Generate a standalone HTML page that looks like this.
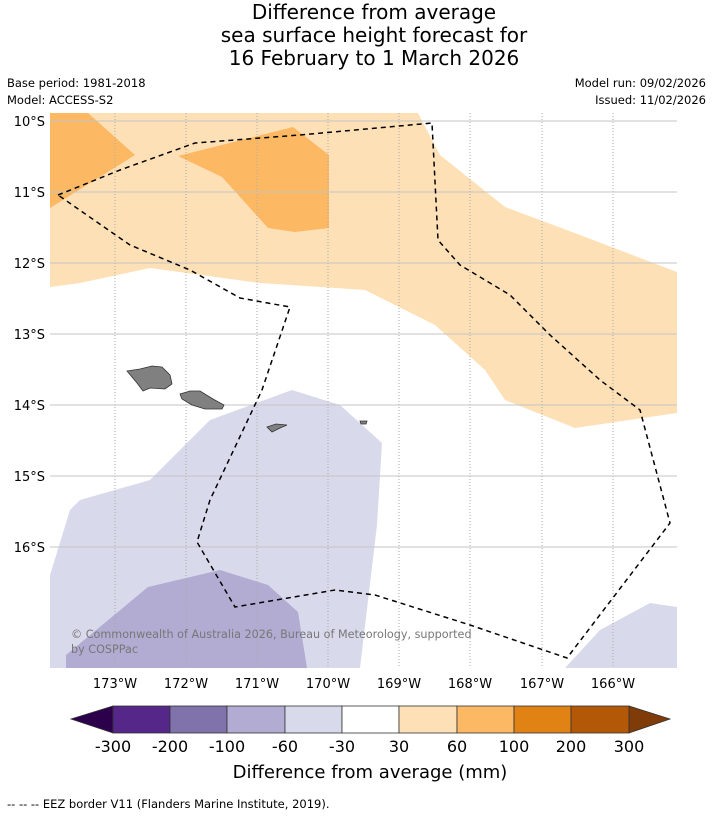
<!DOCTYPE html>
<html><head><meta charset="utf-8"><style>
body{margin:0;background:#fff;font-family:"Liberation Sans","DejaVu Sans",sans-serif;}
svg text{font-family:"DejaVu Sans","Liberation Sans",sans-serif;}
</style></head><body>
<svg width="713" height="816" xmlns="http://www.w3.org/2000/svg">
<g font-size="20" text-anchor="middle" fill="#000">
<text x="374" y="19">Difference from average</text>
<text x="374" y="42">sea surface height forecast for</text>
<text x="374" y="65">16 February to 1 March 2026</text>
</g>
<g font-size="11.5" fill="#000">
<text x="7" y="87">Base period: 1981-2018</text>
<text x="7" y="104">Model: ACCESS-S2</text>
<text x="706" y="87" text-anchor="end">Model run: 09/02/2026</text>
<text x="706" y="104" text-anchor="end">Issued: 11/02/2026</text>
</g>
<defs><clipPath id="mc"><rect x="50" y="113" width="627" height="555"/></clipPath></defs>
<g id="map" clip-path="url(#mc)">
<rect x="50" y="113" width="627" height="555" fill="#fff"/>
<polygon fill="#fee0b6" points="50,113 418,113 440,155 505,207 580,235 677,272 677,413 575,428 505,400 485,370 435,325 365,290 260,283 150,268 80,283 50,287"/>
<polygon fill="#fdb863" points="50,113 88,113 135,155 50,208"/>
<polygon fill="#fdb863" points="178,156 293,127 329,155 329,228 295,232 268,228 222,177"/>
<polygon fill="#d8daeb" points="50,575 70,510 80,500 150,480 210,420 292,390 340,405 382,443 377,525 360,668 50,668"/>
<polygon fill="#b2abd2" points="66,655 148,587 220,570 268,585 298,612 307,668 66,668"/>
<polygon fill="#d8daeb" points="565,668 600,630 650,603 677,607 677,668"/>
<g stroke="#aaa" stroke-width="1">
<g stroke-dasharray="1,2">
<line x1="115" y1="113" x2="115" y2="668"/><line x1="186" y1="113" x2="186" y2="668"/><line x1="257" y1="113" x2="257" y2="668"/><line x1="328" y1="113" x2="328" y2="668"/><line x1="399" y1="113" x2="399" y2="668"/><line x1="470" y1="113" x2="470" y2="668"/><line x1="542" y1="113" x2="542" y2="668"/><line x1="613" y1="113" x2="613" y2="668"/>
</g>
<g stroke="#c4c4c4">
<line x1="50" y1="121" x2="677" y2="121"/><line x1="50" y1="192" x2="677" y2="192"/><line x1="50" y1="263" x2="677" y2="263"/><line x1="50" y1="334" x2="677" y2="334"/><line x1="50" y1="405" x2="677" y2="405"/><line x1="50" y1="476" x2="677" y2="476"/><line x1="50" y1="547" x2="677" y2="547"/>
</g></g>
<g fill="#808080" stroke="#333" stroke-width="0.8">
<path d="M127,371 L140,369 L152,366 L162,367 L170,375 L172,384 L165,389 L150,388 L143,391 L137,383 Z"/>
<path d="M180,394 L190,391 L200,391 L213,399 L224,405 L222,409 L205,409 L192,405 L182,399 Z"/>
<path d="M267,427 L276,424 L287,425 L280,428 L272,432 Z"/>
<path d="M360,421 L367,421 L366,424 L361,424 Z"/>
</g>
<polyline fill="none" stroke="#000" stroke-width="1.5" stroke-dasharray="5,4" points="58,195 120,170 195,143 300,135 432,123 438,240 460,265 510,295 550,335 600,380 640,410 670,523 567,658 470,625 375,595 335,590 235,607 197,542 210,500 262,390 290,307 240,298 190,270 130,245 58,195"/>
<text x="71" y="638" font-size="11.2" fill="#777">© Commonwealth of Australia 2026, Bureau of Meteorology, supported</text>
<text x="71" y="653" font-size="11.2" fill="#777">by COSPPac</text>
</g>
<g font-size="13" text-anchor="middle">
<text x="115" y="688">173°W</text><text x="186" y="688">172°W</text><text x="257" y="688">171°W</text><text x="328" y="688">170°W</text><text x="399" y="688">169°W</text><text x="470" y="688">168°W</text><text x="542" y="688">167°W</text><text x="613" y="688">166°W</text>
</g>
<g font-size="13" text-anchor="end">
<text x="45" y="126">10°S</text><text x="45" y="197">11°S</text><text x="45" y="268">12°S</text><text x="45" y="339">13°S</text><text x="45" y="410">14°S</text><text x="45" y="481">15°S</text><text x="45" y="552">16°S</text>
</g>
<g stroke="#333" stroke-width="0.8">
<polygon points="113,706 71,719 113,733" fill="#2d004b"/>
<rect x="113" y="706" width="57" height="27" fill="#542788"/>
<rect x="170" y="706" width="57" height="27" fill="#8073ac"/>
<rect x="227" y="706" width="58" height="27" fill="#b2abd2"/>
<rect x="285" y="706" width="57" height="27" fill="#d8daeb"/>
<rect x="342" y="706" width="57" height="27" fill="#ffffff"/>
<rect x="399" y="706" width="58" height="27" fill="#fee0b6"/>
<rect x="457" y="706" width="57" height="27" fill="#fdb863"/>
<rect x="514" y="706" width="57" height="27" fill="#e08214"/>
<rect x="571" y="706" width="58" height="27" fill="#b35806"/>
<polygon points="629,706 670,719 629,733" fill="#7f3b08"/>
</g>
<g font-size="16" text-anchor="middle">
<text x="113" y="752">-300</text><text x="170" y="752">-200</text><text x="227" y="752">-100</text><text x="285" y="752">-60</text><text x="342" y="752">-30</text><text x="399" y="752">30</text><text x="457" y="752">60</text><text x="514" y="752">100</text><text x="571" y="752">200</text><text x="629" y="752">300</text>
</g>
<text x="370" y="778" font-size="18" text-anchor="middle">Difference from average (mm)</text>
<text x="7" y="808" font-size="11.5">--  --  -- EEZ border V11 (Flanders Marine Institute, 2019).</text>
</svg>
</body></html>
